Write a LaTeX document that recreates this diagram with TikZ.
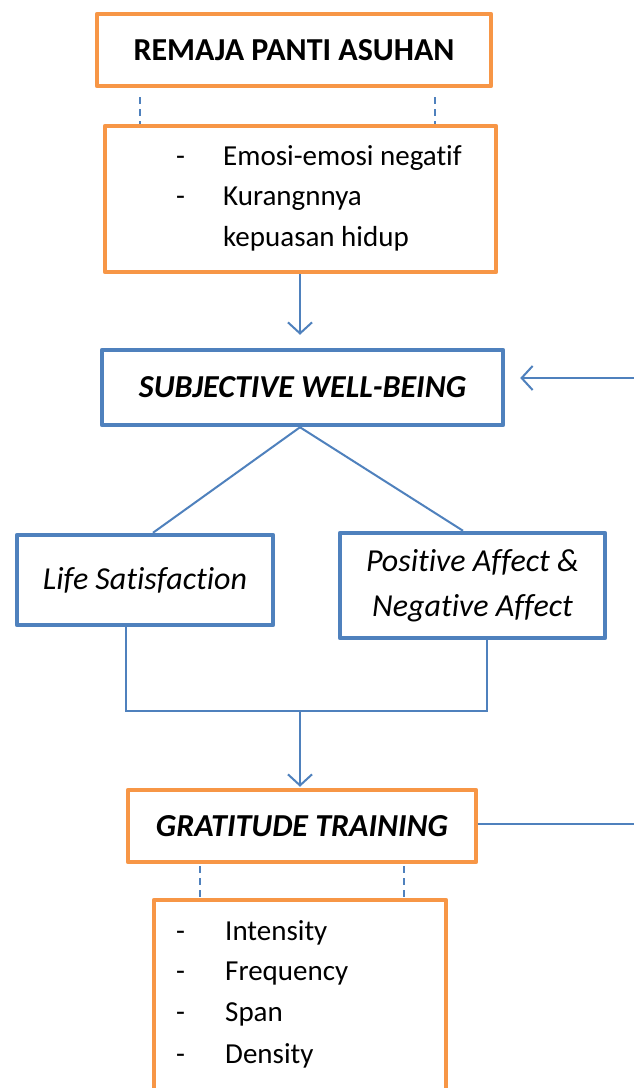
\documentclass[tikz,border=0pt]{standalone}
\usepackage{fontspec}
\setmainfont[Ligatures=NoCommon]{Carlito}
\usetikzlibrary{arrows.meta,calc}
\definecolor{orangeline}{HTML}{F79646}
\definecolor{blueline}{HTML}{4F81BD}
\tikzset{
  obox/.style={draw=orangeline, line width=4.5pt, line join=round, inner sep=0pt},
  bbox/.style={draw=blueline, line width=4.5pt, line join=round, inner sep=0pt},
  titlefont/.style={font=\fontsize{32}{38}\selectfont\bfseries},
  bodyfont/.style={font=\fontsize{29}{40}\selectfont},
  itfont/.style={font=\fontsize{32}{45}\selectfont\itshape},
  conn/.style={draw=blueline, line width=2pt},
  arr/.style={draw=blueline, line width=2pt, -{Straight Barb[length=11pt,width=24pt]}},
  dl/.style={draw=blueline, line width=2pt, dash pattern=on 7pt off 5pt},
  item/.style={bodyfont, anchor=base west, inner sep=0pt},
}
\begin{document}
\begin{tikzpicture}[x=1pt,y=-1pt]
\useasboundingbox (0,0) rectangle (634,1088);
\clip (0,0) rectangle (634,1088);
\fill[white] (0,0) rectangle (634,1088);

% top boxes
\node[obox, titlefont, minimum width=394pt, minimum height=72pt] (remaja) at (294,50) {REMAJA PANTI ASUHAN};
\node[obox, minimum width=391pt, minimum height=146pt] (prob) at (300.5,199) {};
\node[item] (d1) at (176,165) {-};
\node[item] (t1) at (223,165) {Emosi-emosi negatif};
\node[item] (d2) at (176,205) {-};
\node[item] (t2) at (223,205) {Kurangnnya};
\node[item] (t3) at (223,246) {kepuasan hidup};

\draw[dl] ([xshift=-154pt,yshift=-9pt]remaja.south) -- ([xshift=-154pt]remaja.south |- prob.north);
\draw[dl] ([xshift=141pt,yshift=-9pt]remaja.south) -- ([xshift=141pt]remaja.south |- prob.north);

% SWB
\node[bbox, titlefont, font=\fontsize{32}{38}\selectfont\bfseries\itshape, minimum width=401pt, minimum height=75pt] (swb) at (302.5,387.5) {SUBJECTIVE WELL-BEING};
\draw[arr, shorten >=13pt] ([xshift=-0.5pt]prob.south) -- ([xshift=-0.5pt]prob.south |- swb.north);
\coordinate (rin) at (634,378);
\draw[arr, shorten >=15pt] (rin) -- (rin -| swb.east);

% dimensions
\node[bbox, itfont, minimum width=256pt, minimum height=90pt] (ls) at (145,580) {Life Satisfaction};
\node[bbox, itfont, align=center, minimum width=265pt, minimum height=105pt] (pa) at (472.5,585.5) {Positive Affect \&\\Negative Affect};
\draw[conn] ([xshift=-2.5pt]swb.south) -- ([xshift=8pt]ls.north);
\draw[conn] ([xshift=-2.5pt]swb.south) -- ([xshift=-9.5pt]pa.north);

\coordinate (join) at (300,711);
\draw[conn] ([xshift=-19pt]ls.south) |- ([xshift=14.5pt]pa.south |- join) -- ([xshift=14.5pt]pa.south);

% gratitude training
\node[obox, titlefont, font=\fontsize{32}{38}\selectfont\bfseries\itshape, minimum width=348pt, minimum height=72pt] (gt) at (302,826) {GRATITUDE TRAINING};
\draw[arr, shorten >=1pt] (join) -- (join |- gt.north);
\coordinate (rout) at (634,824);
\draw[conn] (rout -| gt.east) -- (rout);

\node[obox, minimum width=292pt, minimum height=220pt] (dims) at (300,1010) {};
\draw[dl] ([xshift=-102pt,yshift=-2pt]gt.south) -- ([xshift=-102pt]gt.south |- dims.north);
\draw[dl] ([xshift=102pt,yshift=-2pt]gt.south) -- ([xshift=102pt]gt.south |- dims.north);

\node[item] (e1) at (176,940) {-};
\node[item] (f1) at (225,940) {Intensity};
\node[item] (e2) at (176,980) {-};
\node[item] (f2) at (225,980) {Frequency};
\node[item] (e3) at (176,1021) {-};
\node[item] (f3) at (225,1021) {Span};
\node[item] (e4) at (176,1063) {-};
\node[item] (f4) at (225,1063) {Density};
\end{tikzpicture}
\end{document}
